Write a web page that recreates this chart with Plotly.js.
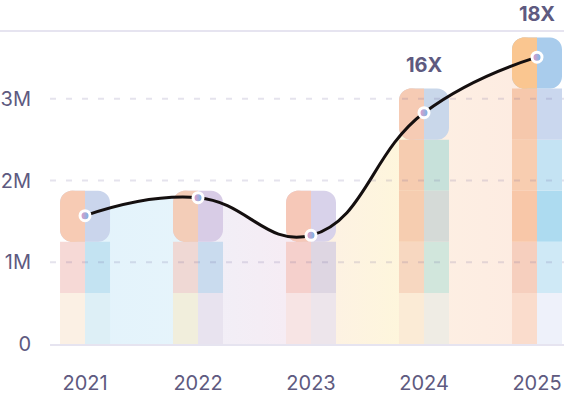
<!DOCTYPE html>
<html>
<head>
<meta charset="utf-8">
<script src="https://cdn.plot.ly/plotly-3.0.1.min.js"></script>
<style>html,body{margin:0;padding:0;background:#fff;}#chart{width:564px;height:396px;}</style>
</head>
<body>
<div id="chart"></div>
<script>
// ---- data ----
const years = [2021, 2022, 2023, 2024, 2025];
const yearLabels = ['2021', '2022', '2023', '2024', '2025'];
const barValues = [1.875, 1.875, 1.875, 3.125, 3.75];      // millions
const lineValues = [1.57, 1.79, 1.33, 2.83, 3.51];         // millions
const multiplierLabels = ['', '', '', '16X', '18X'];
const yTickValues = [0, 1, 2, 3];
const yTickLabels = ['0', '1M', '2M', '3M'];
const TILE = 0.625;

// ---- styles ----
const FONT = 'Inter, "Open Sans", sans-serif';
const TEXT = '#5E5A80';
// tile colours by depth from the top (index 0 = rounded cap), per year
const leftColors = [
  ['#F7CBB4', '#F3CDB8', '#F6C8B8', '#F6CBB4', '#FAC690'],
  ['#F6D9D6', '#EFD8D4', '#F5D0CC', '#F6CCB0', '#F6C8AC'],
  ['#FBF0E4', '#F1EEDC', '#F7E4E4', '#F6CDB0', '#F8CDB0'],
  [null, null, null, '#F7D7C0', '#F8C7A8'],
  [null, null, null, '#FBEBD6', '#F6CFBE'],
  [null, null, null, null, '#FADCCC']
];
const rightColors = [
  ['#CAD5EC', '#D8CCE6', '#D8D2EA', '#C9D7EA', '#A9CCEC'],
  ['#C3E3F2', '#C9DBEE', '#DED6E2', '#C7E1DA', '#CAD7EE'],
  ['#DDEFF6', '#E8E3EF', '#EDE5EB', '#D5DAD7', '#C4E3F3'],
  [null, null, null, '#D1E6DC', '#ADDBF0'],
  [null, null, null, '#EFECE4', '#CFE9F6'],
  [null, null, null, null, '#EEF1FA']
];

const BAR_W = 50 / 113;
const HALF = BAR_W / 2;

const traces = [];

// area under the curve (main axes, below bars)
traces.push({
  type: 'scatter', x: years, y: lineValues, mode: 'lines', fill: 'tozeroy',
  line: {shape: 'spline', smoothing: 1.3, width: 0, color: 'rgba(0,0,0,0)'},
  fillgradient: {
    type: 'horizontal', start: years[0], stop: years[years.length - 1],
    colorscale: [
      [0, '#E3F3FB'], [0.24, '#E6F4FB'], [0.27, '#F1EFF7'], [0.5, '#F7EBF3'],
      [0.52, '#FDF1E4'], [0.74, '#FEF7DA'], [0.77, '#FDEFE3'], [1, '#FDEBE1']
    ]
  },
  hoverinfo: 'skip', showlegend: false, xaxis: 'x', yaxis: 'y'
});

function barTrace(depth, colors, offset, width, radius) {
  const xs = [], y = [], base = [], col = [];
  barValues.forEach((v, i) => {
    const n = Math.round(v / TILE);
    if (depth < n) {
      xs.push(years[i]); y.push(TILE); base.push(v - (depth + 1) * TILE); col.push(colors[depth][i]);
    }
  });
  return {
    type: 'bar', x: xs, y: y, base: base, width: width, offset: offset,
    marker: {color: col, cornerradius: radius, line: {width: 0}},
    hoverinfo: 'skip', showlegend: false, xaxis: 'x2', yaxis: 'y2'
  };
}

const maxDepth = leftColors.length;
for (let d = maxDepth - 1; d >= 1; d--) {
  traces.push(barTrace(d, leftColors, -HALF, HALF, 0));
  traces.push(barTrace(d, rightColors, 0, HALF, 0));
}
// rounded caps
traces.push(barTrace(0, rightColors, -HALF, BAR_W, 12));
traces.push(barTrace(0, leftColors, -HALF, HALF, 12));
traces.push(barTrace(0, leftColors, -HALF * 0.6, HALF * 0.6, 0));

// line and markers (top overlay)
traces.push({
  type: 'scatter', x: years, y: lineValues, mode: 'lines',
  line: {shape: 'spline', smoothing: 1.3, color: '#140F0F', width: 3},
  hoverinfo: 'skip', showlegend: false, xaxis: 'x3', yaxis: 'y3'
});
traces.push({
  type: 'scatter', x: years, y: lineValues, mode: 'markers',
  marker: {size: 10, color: '#F598BF', gradient: {type: 'horizontal', color: '#62BBF0'},
           line: {color: '#FFFFFF', width: 3}},
  hoverinfo: 'skip', showlegend: false, xaxis: 'x3', yaxis: 'y3'
});

const xRange = [2020.69, 2025.239];
const yRange = [0, 3.83];

const shapes = [{
  type: 'line', xref: 'paper', yref: 'paper', x0: -50 / 514, x1: 1, y0: 1, y1: 1,
  line: {color: '#E6E4F0', width: 2}, layer: 'below'
}];
yTickValues.filter(v => v > 0).forEach(v => shapes.push({
  type: 'line', xref: 'paper', yref: 'y', x0: 0, x1: 1, y0: v, y1: v,
  line: {color: 'rgba(100,90,150,0.17)', width: 2, dash: '6px,10px'}, layer: 'above'
}));

const annotations = [];
multiplierLabels.forEach((t, i) => {
  if (t) annotations.push({
    x: years[i], y: barValues[i], xref: 'x', yref: 'y', text: '<b>' + t + '</b>',
    showarrow: false, yanchor: 'bottom', yshift: 10,
    font: {family: FONT, size: 20, color: TEXT}
  });
});

const hidden = {visible: false, showgrid: false, zeroline: false, fixedrange: true};

const layout = {
  width: 564, height: 396,
  margin: {l: 50, r: 0, t: 31, b: 52},
  paper_bgcolor: '#FFFFFF', plot_bgcolor: '#FFFFFF',
  barmode: 'overlay', showlegend: false,
  font: {family: FONT, color: TEXT},
  xaxis: {
    range: xRange, tickmode: 'array', tickvals: years, ticktext: yearLabels,
    showgrid: false, zeroline: false, showline: true, linecolor: '#E6E4F0', linewidth: 2,
    ticks: '', ticklabelstandoff: 20, tickfont: {family: FONT, size: 20, color: TEXT},
    fixedrange: true
  },
  yaxis: {
    range: yRange, tickmode: 'array', tickvals: yTickValues, ticktext: yTickLabels,
    showgrid: false, zeroline: false, showline: false, ticks: '',
    ticklabelstandoff: 18, tickfont: {family: FONT, size: 20, color: TEXT},
    fixedrange: true
  },
  xaxis2: Object.assign({overlaying: 'x', range: xRange}, hidden),
  yaxis2: Object.assign({overlaying: 'y', range: yRange}, hidden),
  xaxis3: Object.assign({overlaying: 'x', range: xRange}, hidden),
  yaxis3: Object.assign({overlaying: 'y', range: yRange}, hidden),
  shapes: shapes,
  annotations: annotations
};

Plotly.newPlot('chart', traces, layout, {displayModeBar: false, staticPlot: true});
</script>
</body>
</html>
